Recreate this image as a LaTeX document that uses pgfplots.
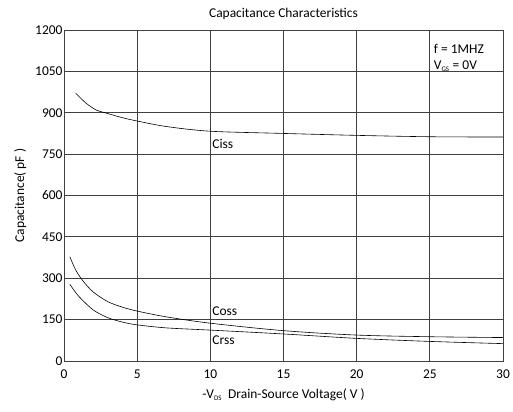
\documentclass[border=0pt]{standalone}
\usepackage{fontspec}
\setmainfont{Carlito}
\usepackage{pgfplots}
\pgfplotsset{compat=1.18}
\usetikzlibrary{calc}
\begin{document}
\begin{tikzpicture}
\begin{axis}[
  scale only axis,
  width=439bp, height=331bp,
  xmin=0, xmax=30, ymin=0, ymax=1200,
  xtick={0,5,...,30}, ytick={0,150,...,1200},
  grid=major,
  major grid style={black!75, line width=0.8pt},
  axis line style={black!75, line width=0.8pt},
  tick style={draw=none},
  font=\fontsize{13.5}{15}\selectfont,
  /pgf/number format/assume math mode=true,
  /pgf/number format/1000 sep={},
  yticklabel style={xshift=2bp},
  xticklabel style={yshift=-5bp},
  title={Capacitance Characteristics},
  title style={yshift=1bp, font=\fontsize{13.5}{15}\selectfont},
  xlabel={-V\textsubscript{\scriptsize DS}\ \ Drain-Source Voltage( V )},
  ylabel={Capacitance( pF )},
  xlabel style={yshift=-3bp},
  ylabel style={yshift=2bp},
]
% Ciss
\addplot[black, line width=0.6pt, smooth] coordinates {
  (0.8,971) (1.5,935) (2.2,910) (2.8,900) (4,882) (5,870) (7,850) (10,833)
  (15,825) (20,818) (25,813) (30,812)
};
% Coss
\addplot[black, line width=0.6pt, smooth] coordinates {
  (0.4,378) (0.8,330) (1.3,290) (2,250) (3,215) (4,195) (5,181) (7,160) (10,137)
  (15,110) (20,94) (25,88) (30,85)
};
% Crss
\addplot[black, line width=0.6pt, smooth] coordinates {
  (0.4,278) (1,235) (2,185) (3,157) (4,141) (5,131) (7,120) (10,112)
  (15,98) (20,82) (25,71) (30,63)
};
\node[anchor=west] at (axis cs:9.9,787) {Ciss};
\node[anchor=west] at (axis cs:9.9,180) {Coss};
\node[anchor=west] at (axis cs:9.9,75) {Crss};
\node[anchor=west, inner sep=1bp] at (axis cs:25.2,1130) {f = 1MHZ};
\node[anchor=west, inner sep=1bp] at (axis cs:25.2,1068) {V\textsubscript{\scriptsize GS} = 0V};
\end{axis}
\pgfresetboundingbox
\path ($(current axis.south west)+(-64bp,-51bp)$) rectangle ($(current axis.north east)+(10bp,30bp)$);
\end{tikzpicture}
\end{document}
